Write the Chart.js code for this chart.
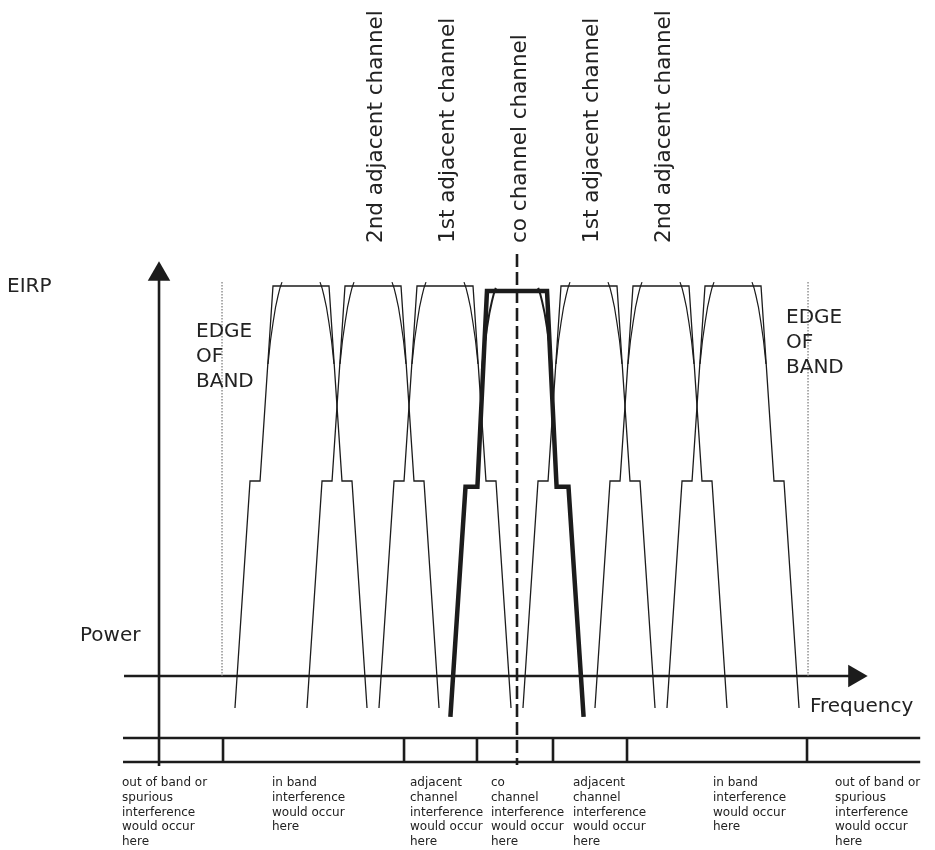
<!DOCTYPE html>
<html>
<head>
<meta charset="utf-8">
<script src="https://cdn.jsdelivr.net/npm/chart.js@4.4.1/dist/chart.umd.min.js"></script>
<style>
  html, body { margin: 0; padding: 0; background: #fff; }
  canvas { display: block; }
</style>
</head>
<body>
<canvas id="chart" width="935" height="850"></canvas>
<script>
// frequency in channel spacings (0 = wanted channel), power relative to peak EIRP
const channelCentres = [-3, -2, -1, 0, 1, 2, 3];
const maskFreq = [-0.917, -0.708, -0.569, -0.389, 0.389, 0.569, 0.708, 0.917];
const maskPower = [-0.082, 0.5, 0.5, 1, 1, 0.5, 0.5, -0.082];
const coMaskFreq = [-0.925, -0.715, -0.55, -0.417, 0.417, 0.55, 0.715, 0.925];
const coMaskPower = [-0.105, 0.485, 0.485, 0.987, 0.987, 0.485, 0.485, -0.105];
const rolloffFreq = [0.264, 0.292, 0.319, 0.354, 0.389, 0.424, 0.458];
const rolloffPower = [1.01, 0.995, 0.975, 0.945, 0.905, 0.86, 0.80];

const bandEdges = [-4.097, 4.042];
const regionBounds = [-4.083, -1.569, -0.556, 0.5, 1.528, 4.028];
const channelLabels = ['2nd adjacent channel', '1st adjacent channel', 'co channel channel', '1st adjacent channel', '2nd adjacent channel'];
const channelLabelFreq = [-2, -1, 0, 1, 2];
const regionLabels = [
    ['out of band or', 'spurious', 'interference', 'would occur', 'here'],
    ['in band', 'interference', 'would occur', 'here'],
    ['adjacent', 'channel', 'interference', 'would occur', 'here'],
    ['co', 'channel', 'interference', 'would occur', 'here'],
    ['adjacent', 'channel', 'interference', 'would occur', 'here'],
    ['in band', 'interference', 'would occur', 'here'],
    ['out of band or', 'spurious', 'interference', 'would occur', 'here']
];
const regionLabelFreq = [-5.486, -3.403, -1.486, -0.361, 0.778, 2.722, 4.417];

// axis extents
const freqAxisX = [-5.458, 4.69];
const powerAxisFreq = -4.972;
const powerAxisY = [-0.231, 1.03];
const tableRows = [-0.159, -0.2205];
const tableX = [-5.472, 5.6];
const dashedY = [1.082, -0.228];
const edgeTop = 1.01;

const INK = '#1c1c1c';
const FONT = '"DejaVu Sans", Lato, sans-serif';

function line(points, opts) {
    return Object.assign({
        data: points,
        showLine: true,
        borderColor: INK,
        backgroundColor: INK,
        borderWidth: 1.3,
        pointRadius: 0,
        tension: 0,
        fill: false
    }, opts || {});
}

function buildDatasets() {
    const sets = [];

    // table grid under the axis
    tableRows.forEach(y => {
        sets.push(line([{ x: tableX[0], y: y }, { x: tableX[1], y: y }], { borderWidth: 2.6 }));
    });
    regionBounds.forEach(x => {
        sets.push(line([{ x: x, y: tableRows[0] }, { x: x, y: tableRows[1] }], { borderWidth: 2.6 }));
    });

    // edge of band
    bandEdges.forEach(x => {
        sets.push(line([{ x: x, y: edgeTop }, { x: x, y: 0 }], {
            borderColor: '#777', borderWidth: 1.2, borderDash: [1.5, 1.5]
        }));
    });

    // interfering channel masks
    channelCentres.forEach(c => {
        if (c === 0) return;
        sets.push(line(maskFreq.map((f, i) => ({ x: c + f, y: maskPower[i] }))));
        sets.push(line(rolloffFreq.map((f, i) => ({ x: c - f, y: rolloffPower[i] })), { borderWidth: 1.2 }));
        sets.push(line(rolloffFreq.map((f, i) => ({ x: c + f, y: rolloffPower[i] })), { borderWidth: 1.2 }));
    });

    // axes with arrow heads
    sets.push(line([{ x: freqAxisX[0], y: 0 }, { x: freqAxisX[1], y: 0 }], {
        borderWidth: 2.4,
        pointRadius: [0, 13],
        pointStyle: 'triangle',
        rotation: 90,
        pointBorderWidth: 0
    }));
    sets.push(line([{ x: powerAxisFreq, y: powerAxisY[0] }, { x: powerAxisFreq, y: powerAxisY[1] }], {
        borderWidth: 2.6,
        pointRadius: [0, 13],
        pointStyle: 'triangle',
        rotation: 0,
        pointBorderWidth: 0
    }));

    // wanted (co) channel
    sets.push(line(coMaskFreq.map((f, i) => ({ x: f, y: coMaskPower[i] })), {
        borderWidth: 4.5, borderJoinStyle: 'miter'
    }));
    sets.push(line(rolloffFreq.map((f, i) => ({ x: -f - 0.03, y: rolloffPower[i] - 0.015 })), { borderWidth: 2 }));
    sets.push(line(rolloffFreq.map((f, i) => ({ x: f + 0.03, y: rolloffPower[i] - 0.015 })), { borderWidth: 2 }));

    // co-channel centre line
    sets.push(line([{ x: 0, y: dashedY[0] }, { x: 0, y: dashedY[1] }], {
        borderWidth: 2.6, borderDash: [13, 5]
    }));

    return sets;
}

const textPlugin = {
    id: 'diagramText',
    afterDatasetsDraw(chart) {
        const ctx = chart.ctx;
        const xs = chart.scales.x;
        const px = v => xs.getPixelForValue(v);
        ctx.save();
        ctx.fillStyle = '#222';
        ctx.textBaseline = 'alphabetic';
        ctx.textAlign = 'left';

        // axis names
        ctx.font = '20px ' + FONT;
        ctx.fillText('EIRP', 7, 292);
        ctx.fillText('Power', 80, 641);
        ctx.fillText('Frequency', px(4.069), 712);

        // edge of band
        const edgeLeft = ['EDGE', 'OF', 'BAND'];
        edgeLeft.forEach((t, i) => ctx.fillText(t, 196, 337 + i * 25));
        edgeLeft.forEach((t, i) => ctx.fillText(t, 786, 323 + i * 25));

        // rotated channel names
        ctx.font = '21.5px ' + FONT;
        ctx.textBaseline = 'middle';
        channelLabels.forEach((t, i) => {
            ctx.save();
            ctx.translate(px(channelLabelFreq[i]) + 3, 243);
            ctx.rotate(-Math.PI / 2);
            ctx.fillText(t, 0, 0);
            ctx.restore();
        });

        // region notes below the table
        ctx.font = '12px ' + FONT;
        regionLabels.forEach((lines, i) => {
            lines.forEach((t, j) => ctx.fillText(t, px(regionLabelFreq[i]), 783 + j * 14.7));
        });
        ctx.restore();
    }
};

new Chart(document.getElementById('chart'), {
    type: 'scatter',
    data: { datasets: buildDatasets() },
    options: {
        responsive: false,
        animation: false,
        layout: { padding: 0, autoPadding: false },
        plugins: { legend: { display: false }, tooltip: { enabled: false } },
        scales: {
            x: { type: 'linear', min: -517 / 72, max: 418 / 72, display: false },
            y: { type: 'linear', min: -174 / 390, max: 676 / 390, display: false }
        }
    },
    plugins: [textPlugin]
});
</script>
</body>
</html>
